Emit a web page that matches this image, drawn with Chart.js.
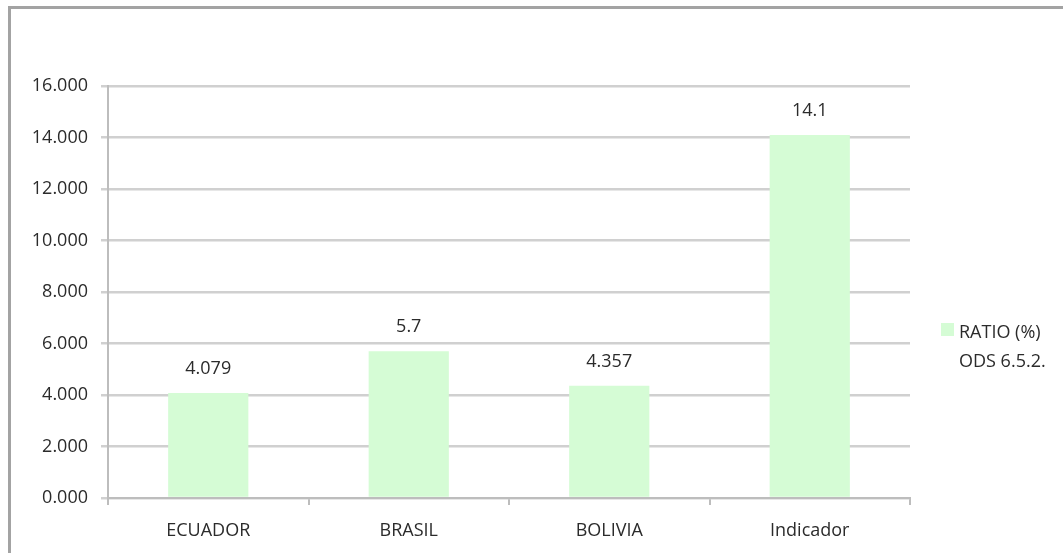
<!DOCTYPE html>
<html>
<head>
<meta charset="utf-8">
<script src="https://cdn.jsdelivr.net/npm/chart.js@4"></script>
<style>
  html, body { margin: 0; padding: 0; background: #fff; overflow: hidden; }
  #wrap { position: relative; width: 1063px; height: 553px; }
  #frame {
    position: absolute; left: 8px; top: 6px; width: 1200px; height: 700px;
    border-left: 3px solid #a3a3a3; border-top: 3px solid #a3a3a3;
    pointer-events: none;
  }
  canvas { position: absolute; left: 0; top: 0; }
</style>
</head>
<body>
<div id="wrap">
  <canvas id="chart" width="1063" height="553"></canvas>
  <div id="frame"></div>
</div>
<script>
const categories = ['ECUADOR', 'BRASIL', 'BOLIVIA', 'Indicador'];
const ratioValues = [4.079, 5.7, 4.357, 14.1];
const yTicks = [0, 2, 4, 6, 8, 10, 12, 14, 16];
const seriesLabel = ['RATIO (%)', 'ODS 6.5.2.'];

const FONT = "'Open Sans', sans-serif";
const TEXT = '#2b2b2b';
const BAR = '#d5fcd5';

// etiquetas de valor encima de cada barra
const valueLabels = {
  id: 'valueLabels',
  afterDatasetsDraw(chart) {
    const ctx = chart.ctx;
    const meta = chart.getDatasetMeta(0);
    ctx.save();
    ctx.font = '18px ' + FONT;
    ctx.fillStyle = TEXT;
    ctx.textAlign = 'center';
    ctx.textBaseline = 'middle';
    meta.data.forEach((bar, i) => {
      ctx.fillText(String(ratioValues[i]), bar.x, bar.y - 24);
    });
    ctx.restore();
  }
};

// leyenda a la derecha, en dos líneas
const sideLegend = {
  id: 'sideLegend',
  afterDraw(chart) {
    const ctx = chart.ctx;
    ctx.save();
    ctx.fillStyle = BAR;
    ctx.fillRect(941, 323, 13, 13);
    ctx.font = '18px ' + FONT;
    ctx.fillStyle = TEXT;
    ctx.textAlign = 'left';
    ctx.textBaseline = 'middle';
    seriesLabel.forEach((line, i) => {
      ctx.fillText(line, 959, 333 + i * 29);
    });
    ctx.restore();
  }
};

new Chart(document.getElementById('chart'), {
  type: 'bar',
  data: {
    labels: categories,
    datasets: [{
      label: seriesLabel.join(' '),
      data: ratioValues,
      backgroundColor: BAR,
      borderWidth: 0,
      categoryPercentage: 0.8,
      barPercentage: 0.5,
    }],
  },
  options: {
    responsive: false,
    animation: false,
    layout: { padding: { top: 86, left: 0, right: 153, bottom: 0 } },
    plugins: {
      legend: { display: false },
      tooltip: { enabled: false },
    },
    scales: {
      x: {
        afterFit: (s) => { s.height = 55; },
        grid: {
          offset: true,
          drawOnChartArea: false,
          drawTicks: true,
          tickLength: 7,
          color: '#bdbdbd',
          lineWidth: 2,
        },
        border: { color: '#bdbdbd', width: 2 },
        ticks: {
          color: TEXT,
          font: { family: FONT, size: 18 },
          padding: 15,
        },
      },
      y: {
        min: 0,
        max: 16,
        afterFit: (s) => { s.width = 108; },
        afterBuildTicks: (s) => { s.ticks = yTicks.map(v => ({ value: v })); },
        grid: {
          color: '#d0d0d0',
          lineWidth: 2.5,
          tickLength: 7,
        },
        border: { color: '#bdbdbd', width: 2 },
        ticks: {
          color: TEXT,
          font: { family: FONT, size: 18 },
          padding: 13,
          callback: (v) => Number(v).toFixed(3),
        },
      },
    },
  },
  plugins: [valueLabels, sideLegend],
});
</script>
</body>
</html>
